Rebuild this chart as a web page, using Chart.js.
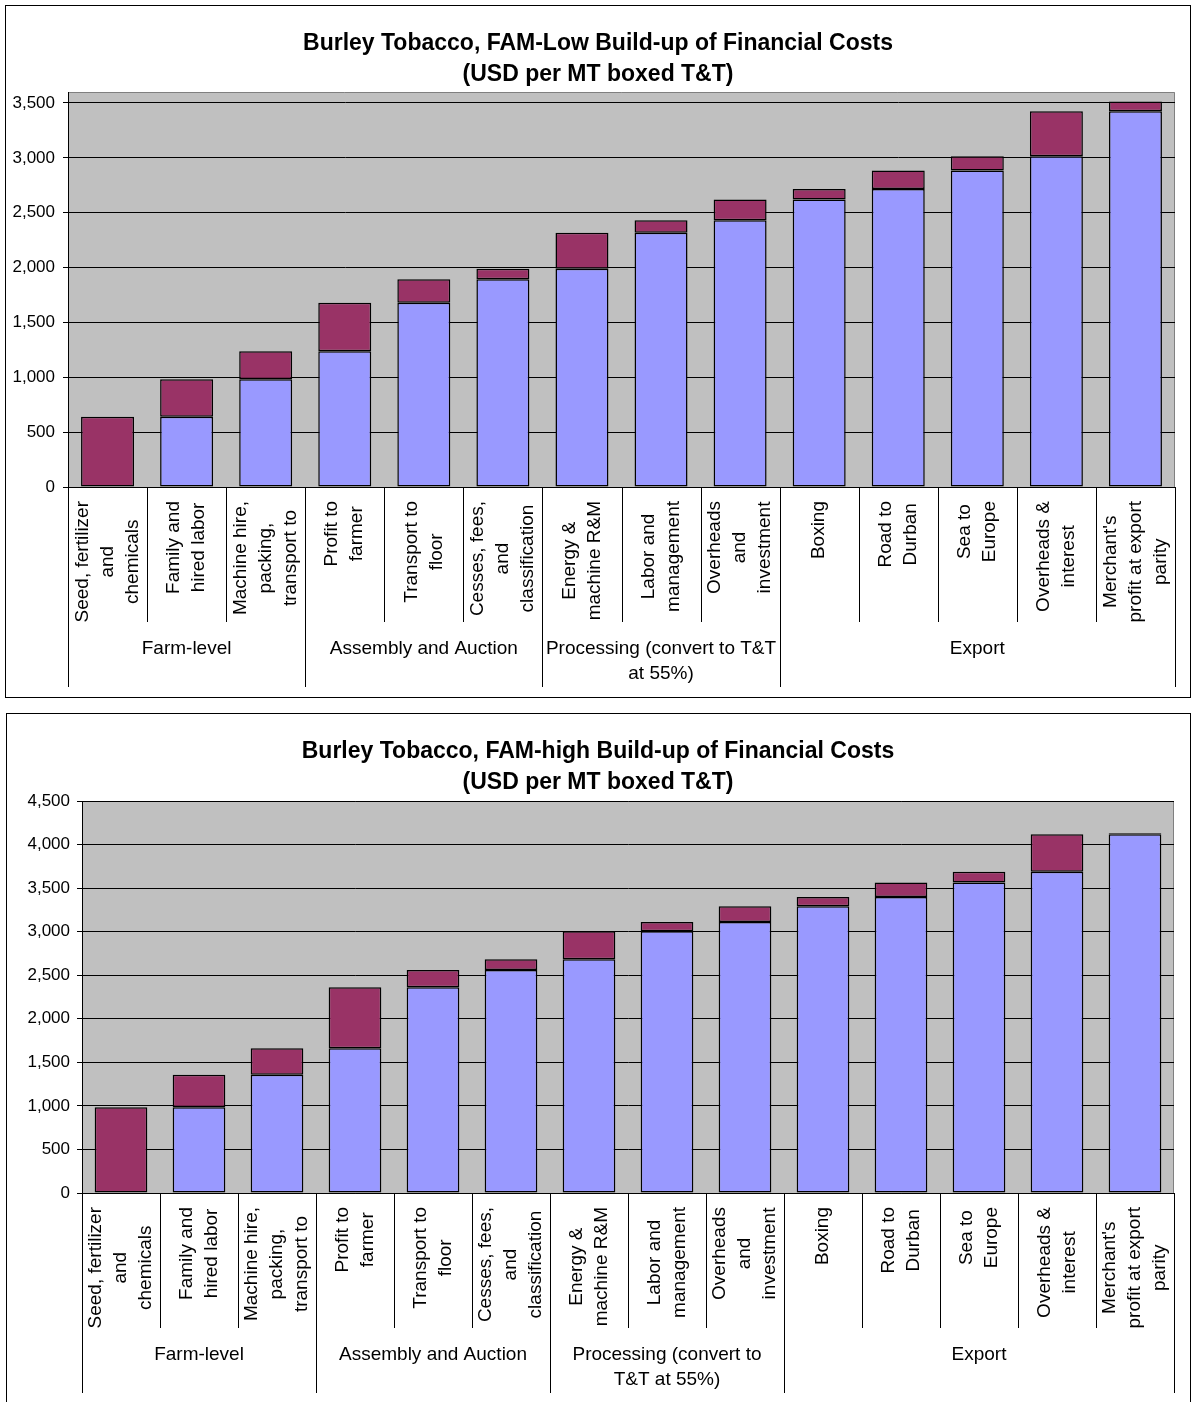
<!DOCTYPE html>
<html>
<head>
<meta charset="utf-8">
<script src="https://cdn.jsdelivr.net/npm/chart.js@4.4.1/dist/chart.umd.min.js"></script>
<style>
  html, body { margin: 0; padding: 0; background: #fff; }
  body { width: 1191px; height: 1402px; position: relative; overflow: hidden; }
  .frame { position: absolute; border: 1px solid #000; box-sizing: border-box; }
  .holder { position: absolute; left: 0; width: 1191px; }
  canvas { display: block; }
</style>
</head>
<body>
<div class="frame" style="left:5px;top:5px;width:1186px;height:693px"></div>
<div class="frame" style="left:6px;top:713px;width:1185px;height:700px"></div>
<div class="holder" style="top:0;height:700px"><canvas id="cLow" width="1191" height="700"></canvas></div>
<div class="holder" style="top:705px;height:697px"><canvas id="cHigh" width="1191" height="697"></canvas></div>

<script>
// Cost items along the value chain (each entry is one wrapped axis label)
const categories = [
  ["Seed, fertilizer", "and", "chemicals"],
  ["Family and", "hired labor"],
  ["Machine hire,", "packing,", "transport to"],
  ["Profit to", "farmer"],
  ["Transport to", "floor"],
  ["Cesses, fees,", "and", "classification"],
  ["Energy &", "machine R&M"],
  ["Labor and", "management"],
  ["Overheads", "and", "investment"],
  ["Boxing"],
  ["Road to", "Durban"],
  ["Sea to", "Europe"],
  ["Overheads &", "interest"],
  ["Merchant's", "profit at export", "parity"]
];

// Stage groupings: first and last category index of each stage
const groupNames = ["Farm-level", "Assembly and Auction", "Processing (convert to T&T at 55%)", "Export"];
const groupStart = [0, 3, 6, 9];
const groupEnd = [2, 5, 8, 13];

// FAM-Low: accumulated cost carried forward, and cost added at each step (USD/MT)
const lowBase  = [0, 640, 983, 1238, 1680, 1893, 1989, 2317, 2432, 2621, 2715, 2885, 3015, 3424];
const lowAdded = [640, 343, 255, 442, 213, 96, 328, 115, 189, 94, 170, 130, 409, 89];
const lowTicks = [0, 500, 1000, 1500, 2000, 2500, 3000, 3500];

// FAM-high: accumulated cost carried forward, and cost added at each step (USD/MT)
const highBase  = [0, 983, 1357, 1663, 2363, 2561, 2684, 3005, 3112, 3292, 3399, 3563, 3689, 4118];
const highAdded = [983, 374, 306, 700, 198, 123, 321, 107, 180, 107, 164, 126, 429, 11];
const highTicks = [0, 500, 1000, 1500, 2000, 2500, 3000, 3500, 4000, 4500];

const lowTitle = ["Burley Tobacco, FAM-Low Build-up of Financial Costs", "(USD per MT boxed T&T)"];
const highTitle = ["Burley Tobacco, FAM-high Build-up of Financial Costs", "(USD per MT boxed T&T)"];

const FONT = '"Liberation Sans", Arial, Helvetica, sans-serif';
const BASE_COLOR = '#9999FF';
const ADDED_COLOR = '#993366';
const PLOT_BG = '#C0C0C0';

// Draws plot background, titles, wrapped rotated item labels, separators and stage names
function decorPlugin(cfg) {
  return {
    id: 'decor',
    beforeDraw(chart) {
      const { ctx, chartArea: a } = chart;
      ctx.save();
      ctx.fillStyle = PLOT_BG;
      ctx.fillRect(a.left, a.top, a.right - a.left, a.bottom - a.top);
      ctx.strokeStyle = '#808080';
      ctx.lineWidth = 1;
      ctx.beginPath();
      ctx.moveTo(a.left, a.top + 0.5);
      ctx.lineTo(a.right - 0.5, a.top + 0.5);
      ctx.lineTo(a.right - 0.5, a.bottom);
      ctx.stroke();
      ctx.restore();
    },
    afterDraw(chart) {
      const { ctx, chartArea: a } = chart;
      const xs = chart.scales.x;
      const n = categories.length;
      const half = (xs.getPixelForValue(1) - xs.getPixelForValue(0)) / 2;
      const axisY = a.bottom;
      ctx.save();

      // title
      ctx.fillStyle = '#000';
      ctx.textAlign = 'center';
      ctx.textBaseline = 'middle';
      ctx.font = 'bold ' + cfg.titleSize + 'px ' + FONT;
      cfg.title.forEach((t, k) => ctx.fillText(t, cfg.titleX, cfg.titleY + k * cfg.titleGap));

      // separators between items and between stages
      const longSet = new Set(groupStart.concat([n]));
      ctx.strokeStyle = '#000';
      ctx.lineWidth = 1;
      for (let k = 0; k <= n; k++) {
        const bx = k < n ? xs.getPixelForValue(k) - half : xs.getPixelForValue(n - 1) + half;
        const px = Math.round(bx) + 0.5;
        const len = longSet.has(k) ? cfg.groupTick : cfg.itemTick;
        ctx.beginPath();
        ctx.moveTo(px, axisY);
        ctx.lineTo(px, axisY + len);
        ctx.stroke();
      }

      // rotated item labels, lines centred on each other, block hung from the top
      ctx.font = cfg.labelSize + 'px ' + FONT;
      ctx.textBaseline = 'middle';
      ctx.textAlign = 'center';
      categories.forEach((lines, i) => {
        const cx = xs.getPixelForValue(i);
        const maxW = Math.max(...lines.map(s => ctx.measureText(s).width));
        ctx.save();
        ctx.translate(cx, axisY + cfg.labelTop);
        ctx.rotate(-Math.PI / 2);
        lines.forEach((s, k) => {
          const off = (k - (lines.length - 1) / 2) * cfg.labelLine;
          ctx.fillText(s, -maxW / 2, off);
        });
        ctx.restore();
      });

      // stage names
      ctx.font = cfg.groupSize + 'px ' + FONT;
      cfg.groupLines.forEach((lines, g) => {
        const x0 = xs.getPixelForValue(groupStart[g]) - half;
        const x1 = xs.getPixelForValue(groupEnd[g]) + half;
        lines.forEach((s, k) => ctx.fillText(s, (x0 + x1) / 2, axisY + cfg.groupY + k * cfg.groupLine));
      });
      ctx.restore();
    }
  };
}

function buildChart(id, base, added, yMax, yTicks, geom) {
  const labels = categories.map(l => l.join(' '));
  return new Chart(document.getElementById(id), {
    type: 'bar',
    data: {
      labels: labels,
      datasets: [
        { label: 'Carried forward', data: base, backgroundColor: BASE_COLOR, borderColor: '#000',
          borderWidth: 1.5, borderSkipped: false, categoryPercentage: 1, barPercentage: geom.barPct },
        { label: 'Added', data: added, backgroundColor: ADDED_COLOR, borderColor: '#000',
          borderWidth: 1.5, borderSkipped: false, categoryPercentage: 1, barPercentage: geom.barPct }
      ]
    },
    options: {
      responsive: false,
      animation: false,
      events: [],
      layout: { padding: { left: 0, right: geom.padRight, top: geom.padTop, bottom: 0 } },
      plugins: { legend: { display: false }, title: { display: false }, tooltip: { enabled: false } },
      scales: {
        x: {
          stacked: true,
          offset: true,
          grid: { display: false, drawTicks: false },
          border: { display: true, color: '#000', width: 1 },
          ticks: { display: false },
          afterFit(scale) { scale.height = geom.xHeight; }
        },
        y: {
          stacked: true,
          min: 0,
          max: yMax,
          grid: { color: '#000', lineWidth: 1, tickLength: 5, tickColor: '#000', drawOnChartArea: true },
          border: { display: true, color: '#000', width: 1 },
          afterBuildTicks(scale) { scale.ticks = yTicks.map(v => ({ value: v })); },
          ticks: {
            padding: geom.tickPad,
            color: '#000',
            font: { family: FONT, size: 17 },
            callback: v => v.toLocaleString('en-US')
          },
          afterFit(scale) { scale.width = geom.yWidth; }
        }
      }
    },
    plugins: [decorPlugin(geom)]
  });
}

buildChart('cLow', lowBase, lowAdded, 3600, lowTicks, {
  barPct: 0.67, padRight: 16, padTop: 92, xHeight: 213, yWidth: 68, tickPad: 8,
  title: lowTitle, titleX: 598, titleY: 44, titleGap: 31, titleSize: 23,
  itemTick: 135, groupTick: 200, labelTop: 14, labelLine: 25, labelSize: 19,
  groupSize: 19, groupY: 162, groupLine: 25,
  groupLines: [["Farm-level"], ["Assembly and Auction"], ["Processing (convert to T&T", "at 55%)"], ["Export"]]
});

buildChart('cHigh', highBase, highAdded, 4500, highTicks, {
  barPct: 0.675, padRight: 17, padTop: 96, xHeight: 209, yWidth: 82, tickPad: 7,
  title: highTitle, titleX: 598, titleY: 47, titleGap: 31, titleSize: 23,
  itemTick: 135, groupTick: 200, labelTop: 14, labelLine: 25, labelSize: 19,
  groupSize: 19, groupY: 162, groupLine: 25,
  groupLines: [["Farm-level"], ["Assembly and Auction"], ["Processing (convert to", "T&T at 55%)"], ["Export"]]
});
</script>
</body>
</html>
